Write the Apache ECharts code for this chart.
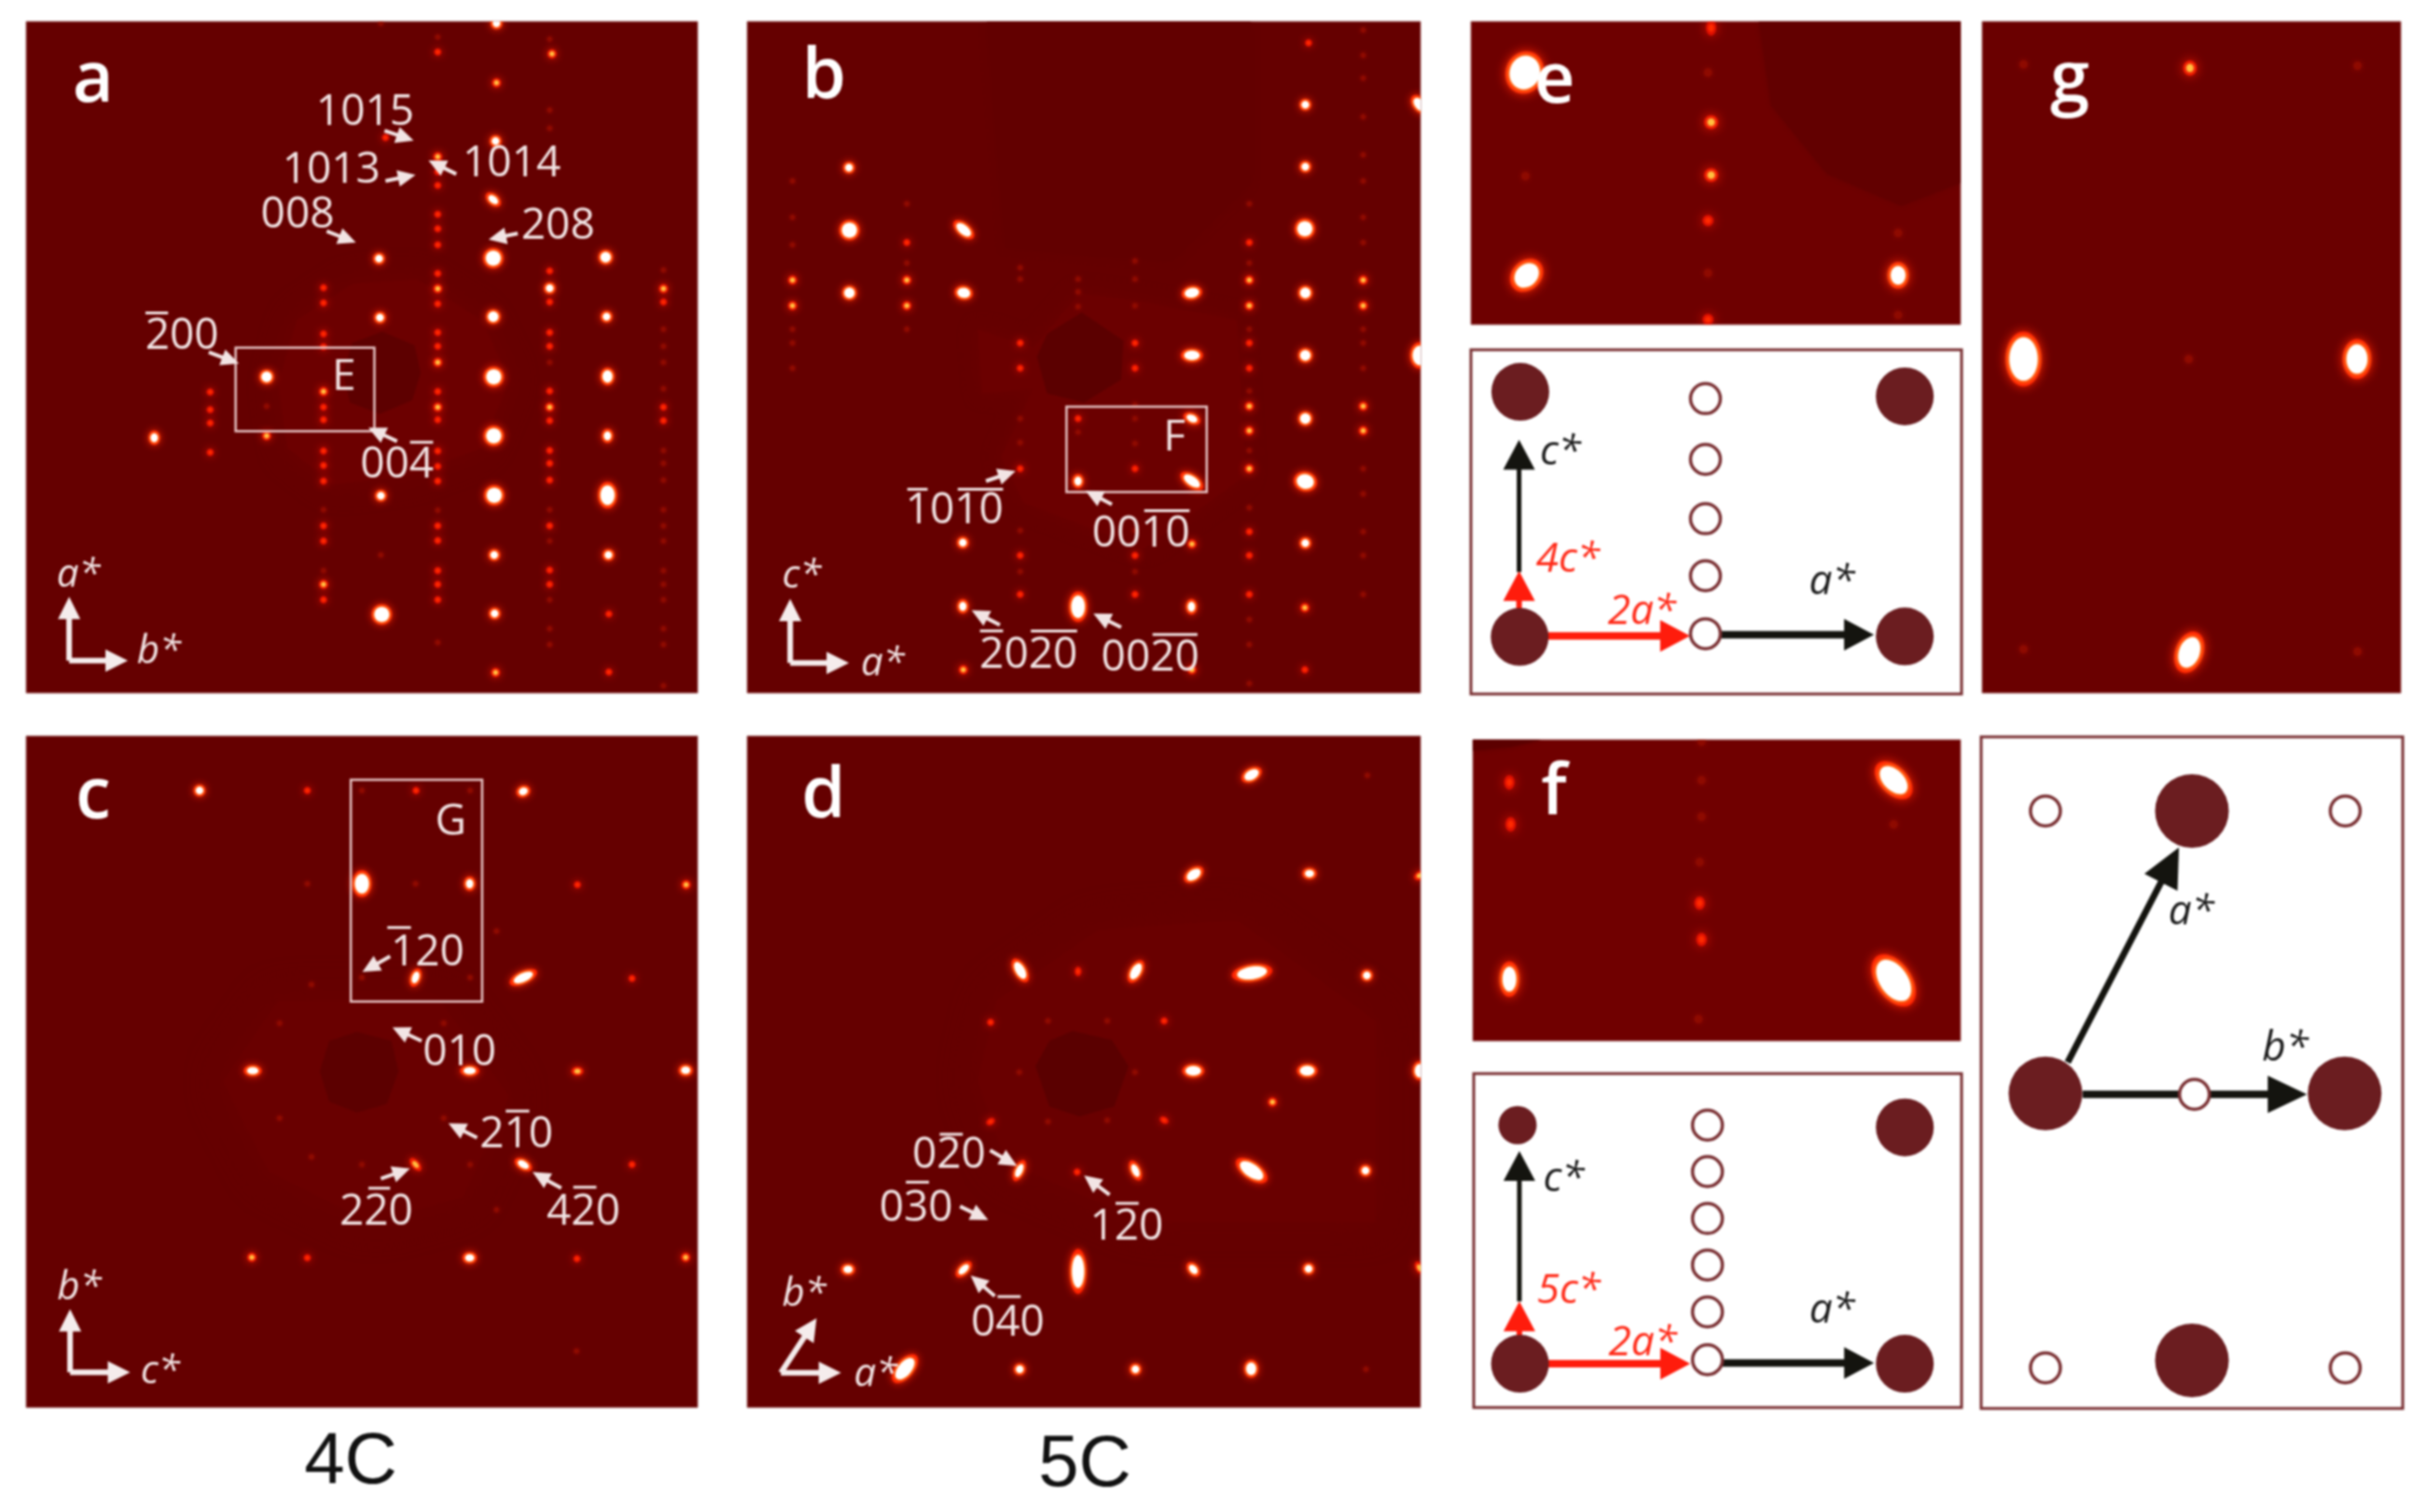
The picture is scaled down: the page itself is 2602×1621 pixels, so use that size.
<!DOCTYPE html>
<html><head><meta charset="utf-8">
<script src="https://cdn.jsdelivr.net/npm/echarts@6/dist/echarts.min.js"></script>
<style>html,body{margin:0;padding:0;background:#fff}#c{width:2602px;height:1621px;filter:blur(.8px)}</style>
</head><body><div id="c"></div>
<script>
// ---------- DATA: positions in each panel's own read-out units ----------
// spots: [x, y, intensity, elongation?, tilt?]; satellites: [column x, [y...]]
const aSpots=[[1072,50,4],[1072,180,3],[1070,308,4],[1065,436,4,1.5,-40],[818,565,4],[1065,564,6],[1308,562,5],[820,694,4],[1065,692,5],[1310,692,4],[575,824,5],[1066,824,6],[1312,823,5,1.2,90],[1066,953,6],[1312,953,4,1.2,90],[332,957,4,1.2,90],[575,953,3],[822,1084,4],[1067,1083,6],[1312,1083,6,1.3,90],[1067,1214,4],[1314,1214,4],[824,1344,6],[1068,1342,4],[1315,1343,2],[1070,1471,3],[1315,1470,2],[832,300,2],[698,1278,3],[945,342,3],[945,631,3],[945,890,3],[1187,630,4],[1187,890,3],[1433,631,3],[1433,890,2],[1192,117,3],[698,856,3],[945,792,3],[945,1278,2]];
const aRed=[[453,[857,896,925,989]],[698,[629,662,730,758,890,918,986,1018,1052,1150,1183,1312]],[945,[113,375,405,468,500,535,598,664,727,757,856,918,986,1020,1052,1150,1182,1248,1312]],[1187,[592,660,727,757,855,920,985,1013,1050,1150,1247,1278]],[1433,[660,920]]];
const aFaint=[[698,[1115,1248]],[822,[50,1214]],[575,[888]],[945,[80,1116,1405]],[1187,[85,240,280,792,1115,1183,1312,1375,1410]],[1433,[590,720,757,792,850,985,1013,1050,1115,1150,1183,1248,1278,1312,1375,1410,1500]]];
const bSpots=[[262,366,4],[263,503,6],[510,502,5,1.7,-40],[263,640,5],[510,640,5,1.25,-10],[1003,640,5,1.4,10],[1003,777,5,1.5,0],[1003,915,4,1.5,-25],[1003,1052,5,1.8,-35],[757,1052,4,1.2,90],[1248,228,4],[1248,364,4],[1247,500,6],[1248,640,5],[1248,777,5],[1248,915,5],[1248,1053,6,1.15,-15],[1248,1188,4],[1247,1329,3],[1247,1465,2],[508,1187,4],[1003,1190,3],[508,1326,4,1.2,90],[757,1327,6,1.5,90],[1002,1327,4,1.3,90],[509,1465,3],[1003,1465,3],[1495,228,5,1.5,-50],[1495,777,6,1.3,90],[140,612,3],[140,668,3],[387,612,3],[387,668,3],[1127,612,3],[1127,668,3],[1127,888,3],[1127,942,3],[1127,1025,3],[1373,612,3],[1373,668,3],[1373,888,3],[1373,942,3]];
const bRed=[[387,[530]],[632,[750,805,1025,1215,1300]],[880,[750,805,1025,1215,1300]],[757,[915]],[1127,[530,750,805,1163,1215,1300]],[1255,[93]]];
const bFaint=[[140,[395,475,535,720,750,805]],[387,[445,575,720]],[632,[585,610,915,968,1160,1250]],[757,[610,638,670,945]],[880,[570,610,668,885,915,970,1160,1250]],[1127,[445,575,720,855,985,1110,1355,1410,1495]],[1373,[65,120,170,255,338,395,475,530,720,750,805,1025,1080,1163,1215,1300]]];
const cSpots=[[430,143,4],[663,143,2],[898,143,2],[1130,145,4,1.2,20],[781,328,6,1.3,90],[1014,328,4,1.2,90],[1247,330,2],[1482,330,3],[897,514,4,1.6,70],[1130,514,5,2,25],[1365,516,2],[545,699,4,1.5,0],[1014,699,4,1.6,0],[1247,700,3,1.3,0],[1481,698,4,1.2,0],[897,885,3,1.7,-50],[1130,885,4,1.6,-30],[1365,885,2],[543,1069,3],[663,1070,2],[1014,1070,4,1.2,0],[1246,1072,2],[1481,1069,3]];
const cFaint=[[663,[328]],[897,[328]],[781,[143,514,885]],[1015,[143,514,885]],[603,[605,793]],[958,[605,793]],[672,[528,870]],[1072,[422,975]],[1245,[1255]]];
const dSpots=[[1132,112,5,1.5,30],[1007,310,5,1.5,35],[1257,308,4,1.2,0],[1495,312,3,1.3,30],[632,500,5,1.8,-60],[757,502,2,1.3,90],[882,502,5,1.7,60],[1133,505,6,2,8],[1381,510,4],[1006,699,5,1.5,0],[1252,699,5,1.4,0],[1495,699,5,1.3,90],[1177,761,3],[630,897,4,1.9,65],[755,900,2],[881,897,4,1.8,-65],[1132,897,6,1.8,-35],[1378,897,4],[260,1093,4,1.2,0],[510,1093,4,1.7,45],[757,1097,6,2.2,90],[1006,1093,4,1.4,-50],[1255,1092,4],[1495,1090,3,1.5,-60],[383,1290,6,1.7,50],[631,1291,4],[881,1291,4],[1131,1290,5,1.2,90],[568,603,2],[943,600,2],[568,800,2,1.3,30],[943,797,2,1.3,-30],[1382,113,1],[1379,1291,1]];
const dFaint=[[692,[600,800]],[820,[600,797]],[630,[702]],[880,[702]]];
const eSpots=[[112,158,7,1.1,70],[115,603,6,1.2,45],[715,603,5,1.2,90],[413,60,2,1.4,90],[413,267,3],[413,383,3],[408,483,2],[408,700,2]];
const eFaint=[[408,[158,598]],[113,[385]],[715,[510,690]]];
const fSpots=[[708,135,6,1.5,-45],[708,575,7,1.5,-55],[88,572,5,1.6,90],[88,140,2,1.3,90],[90,232,2,1.3,90],[395,405,2,1.2,90],[398,485,2,1.2,90]];
const fFaint=[[398,[50,135,215]],[395,[315]],[393,[660]],[708,[232]]];
const gSpots=[[918,785,7,1.4,90],[1457,785,6,1.3,90],[1186,1427,6,1.4,70],[1187,148,3,1.1,90]];
const gFaint=[[918,[140,1420]],[1458,[143,1425]],[1185,[785]]];
// schematic reciprocal-lattice nodes
const sEStrong=[[105,855],[728,865],[104,1392],[728,1391]];
const sEWeak=[[405,870],[405,1003],[405,1133],[405,1258],[405,1385]];
const sFStrong=[[728,893],[104,1412],[728,1412]];
const sFSmall=[[100,888]];
const sFWeak=[[408,888],[408,990],[408,1093],[408,1195],[408,1298],[408,1403]];
const sGStrong=[[1189,205],[952,823],[1436,823],[1189,1407]];
const sGWeak=[[952,205],[1437,205],[1193,825],[952,1423],[1437,1423]];
// labels and the overbars of negative indices [x1,x2,y]
const aLabels=[['1015',788,238],['1014',1105,350],['1013',715,365],['008',642,462],['208',1205,487],['200',392,728],['004',857,1010],['E',742,818]];
const bLabels=[['1010',490,1110],['0010',893,1160],['2020',650,1425],['0020',913,1432],['F',965,950]];
const cLabels=[['120',923,458],['010',992,657],['210',1115,820],['220',812,973],['420',1260,973],['G',973,200]];
const dLabels=[['020',478,860],['030',407,965],['120',862,1003],['040',605,1192]];
const aBars=[[313,362,684],[885,935,967]];
const bBars=[[388,432,1070],[497,595,1070],[900,998,1117],[545,595,1380],[655,755,1380],[918,1015,1388]];
const cBars=[[836,887,415],[1092,1143,779],[795,842,932],[1238,1288,930]];
const dBars=[[458,508,825],[385,435,920],[838,888,962],[583,633,1147]];
// callout arrows [x1,y1,x2,y2]
const aCallouts=[[830,285,893,307],[832,395,897,382],[985,380,925,350],[705,505,768,530],[1118,510,1055,523],[450,770,515,795],[857,965,795,935]];
const bCallouts=[[558,1052,622,1030],[830,1103,773,1073],[588,1367,527,1335],[850,1372,790,1342]];
const cCallouts=[[842,472,782,503],[910,640,847,613],[1030,832,968,803],[822,913,885,893],[1212,932,1150,900]];
const dCallouts=[[567,857,625,888],[502,968,563,995],[825,945,770,907],[577,1146,525,1105]];

// ---------- LAYOUT ----------
const P={
 a:{l:28,t:23,w:720,h:720,x:[55,1507],y:[46,1516],bg:'#650000'},
 b:{l:801,t:23,w:722,h:720,x:[42,1497],y:[46,1516],bg:'#650000'},
 c:{l:28,t:789,w:720,h:720,x:[55,1507],y:[35,1367],bg:'#650000'},
 d:{l:801,t:789,w:722,h:720,x:[42,1497],y:[35,1367],bg:'#650000'},
 e:{l:1577,t:23,w:525,h:325,x:[25,816],y:[46,711],bg:'#6e0000'},
 g:{l:2125,t:23,w:449,h:720,x:[851,1528],y:[46,1516],bg:'#6a0000'},
 f:{l:1579,t:793,w:523,h:323,x:[29,816],y:[46,708],bg:'#700000'},
 se:{l:1577,t:375,w:526,h:369,x:[25,820],y:[763,1517],bg:'#fff',sch:1},
 sf:{l:1580,t:1151,w:523,h:358,x:[29,820],y:[775,1508],bg:'#fff',sch:1},
 sg:{l:2124,t:790,w:452,h:720,x:[848,1530],y:[43,1512],bg:'#fff',sch:1}
};
const keys=Object.keys(P), idx=k=>keys.indexOf(k);
const grid=keys.map(k=>({left:P[k].l,top:P[k].t,width:P[k].w,height:P[k].h,show:true,backgroundColor:P[k].bg,
  borderColor:P[k].sch?'#7a3033':'#a86a6a',borderWidth:P[k].sch?3:1,containLabel:false}));
const xAxis=keys.map((k,i)=>({gridIndex:i,type:'value',min:P[k].x[0],max:P[k].x[1],show:false}));
const yAxis=keys.map((k,i)=>({gridIndex:i,type:'value',min:P[k].y[0],max:P[k].y[1],inverse:true,show:false}));
const series=[];
const LV={1:[6,0,'#8e0a00',''],2:[8,4,'#dd1000','#ff2a00'],3:[10,5,'#ee1800','#ffc040'],4:[13,8,'#ff2000','#ffffff'],5:[16,11,'#ff2000','#ffffff'],6:[22,16,'#ff2000','#ffffff'],7:[28,22,'#ff2000','#ffffff']};
const expand=(cols,lv)=>cols.flatMap(c=>c[1].map(y=>[c[0],y,lv]));
function spots(k,rows,scale){
  const i=idx(k),s=scale||1;
  series.push({type:'custom',coordinateSystem:'cartesian2d',xAxisIndex:i,yAxisIndex:i,z:3,silent:true,clip:true,
   data:rows.map(r=>[r[0],r[1],r[2]]),encode:{x:0,y:1},
   renderItem:(p,api)=>{
     const r=rows[p.dataIndex],L=LV[r[2]],e=r[3]||1,rot=(r[4]||0)*Math.PI/180,c=api.coord([r[0],r[1]]);
     const ell=(d,fill,blur,sc)=>({type:'ellipse',x:c[0],y:c[1],rotation:rot,shape:{cx:0,cy:0,rx:d*s*e/2,ry:d*s/Math.pow(e,.25)/2},style:{fill,shadowBlur:blur*s,shadowColor:sc}});
     const ch=[ell(L[0],L[2],r[2]==1?5:8,L[2])];
     if(L[1])ch.push(ell(L[1],L[3],r[2]>3?4:2,r[2]>3?'#ffe040':L[3]));
     return {type:'group',children:ch};
   }});
}
function poly(k,verts,color,blur,z){
  const i=idx(k);
  series.push({type:'custom',coordinateSystem:'cartesian2d',xAxisIndex:i,yAxisIndex:i,z:z||1,silent:true,clip:true,data:[[verts[0][0],verts[0][1]]],
   renderItem:(p,api)=>({type:'polygon',shape:{points:verts.map(v=>api.coord(v))},style:{fill:color,shadowBlur:blur||0,shadowColor:color}})});
}
function arrows(k,rows,o){
  const i=idx(k);
  series.push({type:'custom',coordinateSystem:'cartesian2d',xAxisIndex:i,yAxisIndex:i,z:o.z||6,silent:true,clip:false,data:rows,encode:{x:[0,2],y:[1,3]},
   renderItem:(p,api)=>{
     const a=api.coord([api.value(0),api.value(1)]),b=api.coord([api.value(2),api.value(3)]);
     const dx=b[0]-a[0],dy=b[1]-a[1],n=Math.hypot(dx,dy),ux=dx/n,uy=dy/n;
     const m=[b[0]-ux*o.len,b[1]-uy*o.len],nx=-uy*o.wid/2,ny=ux*o.wid/2;
     return {type:'group',children:[
       {type:'line',shape:{x1:a[0],y1:a[1],x2:m[0]+ux,y2:m[1]+uy},style:{stroke:o.color,lineWidth:Math.abs(dx)>Math.abs(dy)&&o.lwH?o.lwH:o.lw}},
       {type:'polygon',shape:{points:[b,[m[0]+nx,m[1]+ny],[m[0]-nx,m[1]-ny]]},style:{fill:o.color}}]};
   }});
}
function bars(k,rows){
  const i=idx(k);
  series.push({type:'custom',coordinateSystem:'cartesian2d',xAxisIndex:i,yAxisIndex:i,z:7,silent:true,clip:false,data:rows,encode:{x:[0,1],y:2},
   renderItem:(p,api)=>{const a=api.coord([api.value(0),api.value(2)]),b=api.coord([api.value(1),api.value(2)]);
     return {type:'line',shape:{x1:a[0],y1:a[1],x2:b[0],y2:b[1]},style:{stroke:'#f2e4e4',lineWidth:3}};}});
}
function box(k,x1,y1,x2,y2){
  const i=idx(k);
  series.push({type:'custom',coordinateSystem:'cartesian2d',xAxisIndex:i,yAxisIndex:i,z:5,silent:true,clip:false,data:[[x1,y1,x2,y2]],encode:{x:[0,2],y:[1,3]},
   renderItem:(p,api)=>{const a=api.coord([x1,y1]),b=api.coord([x2,y2]);
     return {type:'rect',shape:{x:a[0],y:a[1],width:b[0]-a[0],height:b[1]-a[1]},style:{fill:'none',stroke:'#e6c4c4',lineWidth:2.5}};}});
}
function text(k,rows,o){
  const i=idx(k);
  series.push({type:'scatter',xAxisIndex:i,yAxisIndex:i,symbolSize:1,z:o.z||7,silent:true,clip:false,itemStyle:{color:'transparent',opacity:1},
    data:rows.map(r=>({name:r[0],value:[r[1],r[2]]})),
    label:{show:true,position:'inside',offset:[0,o.dy===undefined?4:o.dy],formatter:'{b}',opacity:1,color:o.color||'#f2e4e4',fontFamily:o.font||'Open Sans',fontSize:o.size||46,fontStyle:o.italic?'italic':'normal',fontWeight:o.weight||400}});
}
function nodes(k,rows,size,open){
  const i=idx(k);
  series.push({type:'scatter',xAxisIndex:i,yAxisIndex:i,symbol:'circle',symbolSize:size,z:open?5:3,silent:true,clip:false,
    data:rows,itemStyle:open?{color:'#ffffff',borderColor:'#7a3033',borderWidth:3.5,opacity:1}:{color:'#6b1d20',opacity:1}});
}
// ---------- background tone regions ----------
poly('a',[[640,700],[760,620],[900,610],[1040,700],[1100,830],[1040,980],[880,1040],[720,1060],[620,980],[600,840]],'#6c0000',30);
poly('a',[[825,725],[895,755],[908,815],[890,875],[820,905],[755,880],[740,815],[760,750]],'#5d0000');
poly('b',[[540,720],[660,760],[760,640],[900,660],[1100,700],[1120,1040],[900,1200],[640,1100],[590,1000],[660,850],[550,860]],'#6b0000',20);
poly('b',[[560,46],[600,540],[800,560],[960,570],[1130,400],[1130,46]],'#620000',10);
poly('b',[[765,683],[855,745],[850,830],[770,880],[690,860],[668,780],[690,730]],'#5b0000');
poly('c',[[600,560],[950,560],[1100,750],[1000,950],[800,1000],[580,900],[480,720]],'#690000',40);
poly('c',[[770,622],[845,640],[860,700],[835,765],[770,782],[710,760],[690,700],[710,640]],'#5c0000');
poly('d',[[580,560],[800,420],[1100,400],[1400,600],[1400,1000],[900,1000],[600,880],[540,720]],'#690000',40);
poly('d',[[745,620],[830,638],[866,690],[835,770],[760,790],[695,770],[665,690],[695,640]],'#5a0000');
poly('e',[[490,46],[510,230],[600,380],[720,450],[816,400],[816,46]],'#620000',5);
poly('f',[[29,46],[140,46],[90,62],[29,70]],'#5c0000',5);
// ---------- spots ----------
spots('a',[...expand(aFaint,1),...expand(aRed,2),...aSpots]);
spots('b',[...expand(bFaint,1),...expand(bRed,2),...bSpots]);
spots('c',[...expand(cFaint,1),...cSpots]);
spots('d',[...expand(dFaint,1),...dSpots]);
spots('e',[...expand(eFaint,1),...eSpots],1.5);
spots('f',[...expand(fFaint,1),...fSpots],1.5);
spots('g',[...expand(gFaint,1),...gSpots],1.5);
// ---------- callouts ----------
const CO={color:'#f2e4e4',lw:4,len:19,wid:18};
arrows('a',aCallouts,CO);arrows('b',bCallouts,CO);arrows('c',cCallouts,CO);arrows('d',dCallouts,CO);
box('a',508,760,808,943);box('b',732,889,1035,1076);box('c',757,122,1041,562);
text('a',aLabels,{});text('b',bLabels,{});text('c',cLabels,{});text('d',dLabels,{});
bars('a',aBars);bars('b',bBars);bars('c',cBars);bars('d',dBars);
// panel letters
const LT={size:76,weight:600,color:'#ffffff',dy:0};
text('a',[['a',200,178]],LT);text('b',[['b',208,170]],LT);text('c',[['c',200,157]],LT);text('d',[['d',207,155]],LT);
text('e',[['e',160,180]],LT);text('f',[['f',160,165]],LT);text('g',[['g',993,178]],LT);
// crystal axes of the pattern panels
const AX={color:'#f5ecec',lw:6,len:24,wid:24};
arrows('a',[[148,1445,148,1305],[148,1445,275,1445]],AX);
arrows('b',[[135,1450,135,1310],[135,1450,262,1450]],AX);
arrows('c',[[150,1297,150,1172],[150,1297,280,1297]],AX);
arrows('d',[[115,1298,192,1190],[115,1298,245,1298]],AX);
const AL={size:42,italic:true,color:'#f2e4e4'};
text('a',[['a*',168,1250],['b*',342,1418]],AL);
text('b',[['c*',160,1252],['a*',335,1445]],AL);
text('c',[['b*',170,1122],['c*',345,1290]],AL);
text('d',[['b*',165,1135],['a*',320,1295]],AL);
// ---------- schematics ----------
const BK={color:'#14140f',lw:5,lwH:8,len:32,wid:34,z:2}, RD={color:'#ff1c0c',lw:6,lwH:8,len:32,wid:34,z:2};
nodes('se',sEStrong,62);nodes('se',sEWeak,32,true);
arrows('se',[[103,1250,103,960],[430,1387,678,1387]],BK);
arrows('se',[[103,1330,103,1248],[150,1390,380,1390]],RD);
nodes('sf',sFStrong,62);nodes('sf',sFSmall,41);nodes('sf',sFWeak,32,true);
arrows('sf',[[103,1275,103,945],[430,1410,678,1410]],BK);
arrows('sf',[[103,1350,103,1275],[150,1412,380,1412]],RD);
nodes('sg',sGStrong,79);nodes('sg',sGWeak,32,true);
arrows('sg',[[988,755,1168,285],[1012,825,1375,825]],{color:'#14140f',lw:7,lwH:8,len:42,wid:40,z:2});
const SK={size:44,italic:true,color:'#1a1a1a'}, SR={size:44,italic:true,color:'#ff2a18'};
text('se',[['c*',170,980],['a*',610,1265]],SK);text('se',[['4c*',182,1215],['2a*',302,1330]],SR);
text('sf',[['c*',175,1000],['a*',610,1287]],SK);text('sf',[['5c*',183,1245],['2a*',303,1360]],SR);
text('sg',[['a*',1188,420],['b*',1340,718]],SK);

const chart=echarts.init(document.getElementById('c'),null,{renderer:'canvas'});
chart.setOption({animation:false,backgroundColor:'#ffffff',grid,xAxis,yAxis,series,
  title:[
   {text:'4C',left:371,top:1524,textAlign:'center',textStyle:{fontFamily:'Liberation Sans',fontSize:78,fontWeight:400,color:'#111'}},
   {text:'5C',left:1158,top:1527,textAlign:'center',textStyle:{fontFamily:'Liberation Sans',fontSize:78,fontWeight:400,color:'#111'}}
  ]});
</script></body></html>
